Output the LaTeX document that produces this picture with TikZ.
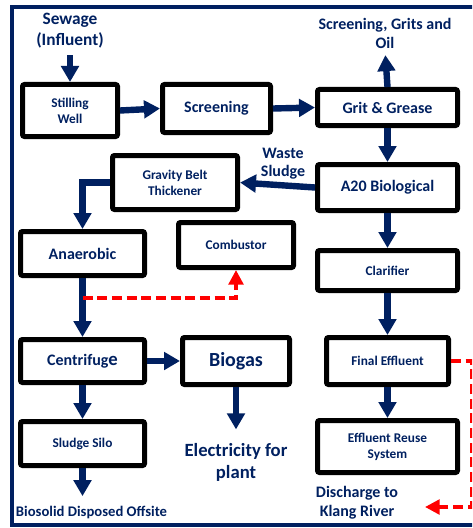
\documentclass[tikz,border=0pt]{standalone}
\usepackage{fontspec}
\setmainfont{Carlito}
\usetikzlibrary{arrows.meta}
\definecolor{navy}{RGB}{0,32,96}

\begin{document}
\begin{tikzpicture}[x=0.75pt,y=-0.75pt,
  box/.style={draw=black,line width=3.75pt,rounded corners=1.5pt,text=navy,align=center,
    inner sep=1pt,font=\bfseries\fontsize{10}{12}\selectfont},
  big/.style={font=\bfseries\fontsize{12}{14}\selectfont},
  lbl/.style={text=navy,align=center,inner sep=1pt,font=\bfseries\fontsize{12}{14.25}\selectfont},
  flow/.style={navy,line width=4.8pt,-{Triangle[width=13pt,length=12pt]}},
  spill/.style={red,line width=2.6pt,dash pattern=on 7.5pt off 3.5pt,-{Triangle[width=11pt,length=11pt]}}]
\clip (0,0) rectangle (472,528);
\draw [navy,line width=2.6pt] (12,7) rectangle (490,525);

% treatment line
\node [lbl,font=\bfseries\fontsize{13}{15.75}\selectfont] (sewage) at (70,31) {Sewage\\(Influent)};
\node [box,minimum width=71.25pt,minimum height=39pt] (still) at (70,110.5) {Stilling\\Well};
\node [box,big,minimum width=81pt,minimum height=36pt] (screen) at (216.5,108.5) {Screening};
\node [box,big,minimum width=105pt,minimum height=27pt] (grit) at (387.5,107.5) {Grit \& Grease};
\node [lbl] (sgo) at (385,33) {Screening, Grits and\\Oil};
\node [box,big,minimum width=105pt,minimum height=34.5pt] (a20) at (387.5,187.5) {A20 Biological};
\node [box,minimum width=105pt,minimum height=30pt] (clar) at (387.5,270.5) {Clarifier};
\node [box,minimum width=91.5pt,minimum height=35.25pt] (final) at (387.5,361) {Final Effluent};
\node [box,minimum width=105pt,minimum height=39pt] (reuse) at (387.5,446.5) {Effluent Reuse\\System};
\node [lbl] (river) at (357,503) {Discharge to\\Klang River};
\coordinate (out) at (425,507);

% sludge line
\node [lbl,font=\bfseries\fontsize{12}{13.5}\selectfont] (waste) at (283,164) {Waste\\Sludge};
\node [box,minimum width=93.75pt,minimum height=40.5pt] (gbt) at (175,182.5) {Gravity Belt\\Thickener};
\node [box,big,minimum width=93pt,minimum height=33pt] (anaer) at (82.5,253.5) {Anaerobic};
\node [box,minimum width=86.25pt,minimum height=33.75pt] (comb) at (236,245) {Combustor};
\node [box,big,minimum width=93pt,minimum height=32.25pt] (centr) at (82.5,361) {Centrifug{\fontsize{14}{14}\selectfont e}};
\node [box,minimum width=80.25pt,minimum height=35.25pt,font=\bfseries\fontsize{15}{18}\selectfont] (biogas) at (236,361) {Biogas};
\node [lbl,font=\bfseries\fontsize{14}{16.5}\selectfont] (elec) at (236,462) {Electricity for\\plant};
\node [box,minimum width=93pt,minimum height=33pt] (silo) at (82.5,443.5) {Sludge Silo};
\node [lbl,font=\bfseries\fontsize{11}{13}\selectfont] (bio) at (91.5,512) {Biosolid Disposed Offsite};
\coordinate (tap) at (82.5,298);

\draw [flow,shorten <=4pt] (sewage.south) -- (still.north);
\draw [flow] (still.east) -- (screen.west);
\draw [flow] (screen.east) -- (grit.west);
\draw [flow,shorten >=4pt] (grit.north) -- (sgo.south);
\draw [flow] (grit.south) -- (a20.north);
\draw [flow] (a20.south) -- (clar.north);
\draw [flow] (clar.south) -- (final.north);
\draw [flow] (final.south) -- (reuse.north);
\draw [flow] (a20.west) -- (gbt.east);
\draw [flow] (gbt.west) -| (anaer.north);
\draw [flow] (anaer.south) -- (centr.north);
\draw [flow] (centr.east) -- (biogas.west);
\draw [flow,shorten >=9pt] (biogas.south) -- (elec.north);
\draw [flow] (centr.south) -- (silo.north);
\draw [flow,shorten >=6pt] (silo.south) -- (silo.south |- bio.north);
\draw [spill] (tap) -| (comb.south);
\draw [spill] (final.east) -- ++(21,0) |- (out);
\end{tikzpicture}
\end{document}
